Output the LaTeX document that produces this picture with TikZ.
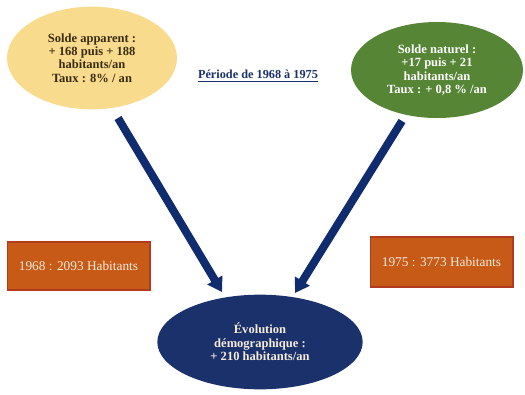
\documentclass[tikz,border=0pt]{standalone}
\usepackage{fontspec}
\setmainfont{Liberation Serif}
\usetikzlibrary{shapes.geometric,arrows.meta}
\definecolor{yel}{HTML}{F8DB8C}
\definecolor{grn}{HTML}{568536}
\definecolor{org}{HTML}{C65A16}
\definecolor{orgb}{HTML}{B23A1E}
\definecolor{navy}{HTML}{1B316B}
\definecolor{arrowc}{HTML}{112C6E}
\definecolor{brn}{HTML}{3A2C12}
\definecolor{cream}{HTML}{F6ECDD}
\tikzset{
  bubble/.style={ellipse, inner sep=0pt, align=center, font=\fontsize{9.4}{10}\selectfont\bfseries},
  popbox/.style={rectangle, fill=org, draw=orgb, line width=1pt, inner sep=0pt, minimum width=107pt, minimum height=36pt, text=cream, font=\fontsize{10}{11}\selectfont},
  bigarrow/.style={draw=arrowc, line width=6pt, -{Triangle[width=12.5pt,length=10.5pt]}, fill=arrowc}
}
\begin{document}
\begin{tikzpicture}[x=0.75pt,y=-0.75pt]
\useasboundingbox[fill=white] (0,0) rectangle (525,394);
\node[bubble, fill=yel, text=brn, minimum width=127.5pt, minimum height=77pt] (app) at (92,58) {Solde apparent :\\+ 168 puis + 188\\habitants/an\\Taux : 8\% / an};
\node[bubble, fill=grn, text=white, minimum width=129pt, minimum height=72pt] (nat) at (437,70) {Solde naturel :\\+17 puis + 21\\habitants/an\\Taux : + 0,8 \% /an};
\node[text=navy, font=\fontsize{9.2}{10}\selectfont\bfseries, inner sep=0pt] (title) at (258,76) {\underline{Période de 1968 à 1975}};
\node[popbox] (y68) at (78.5,266) {1968 : 2093 Habitants};
\node[popbox, minimum height=37.5pt] (y75) at (441.5,262) {1975 : 3773 Habitants};
\node[bubble, fill=navy, text=cream, minimum width=154pt, minimum height=71pt] (evo) at (260,342) {Évolution\\démographique :\\+ 210 habitants/an};
\coordinate (a1) at (118,118);
\coordinate (a2) at (222,292);
\coordinate (b1) at (402,121);
\coordinate (b2) at (295,293);
\draw[bigarrow] (a1) -- (a2);
\draw[bigarrow] (b1) -- (b2);
\end{tikzpicture}
\end{document}
